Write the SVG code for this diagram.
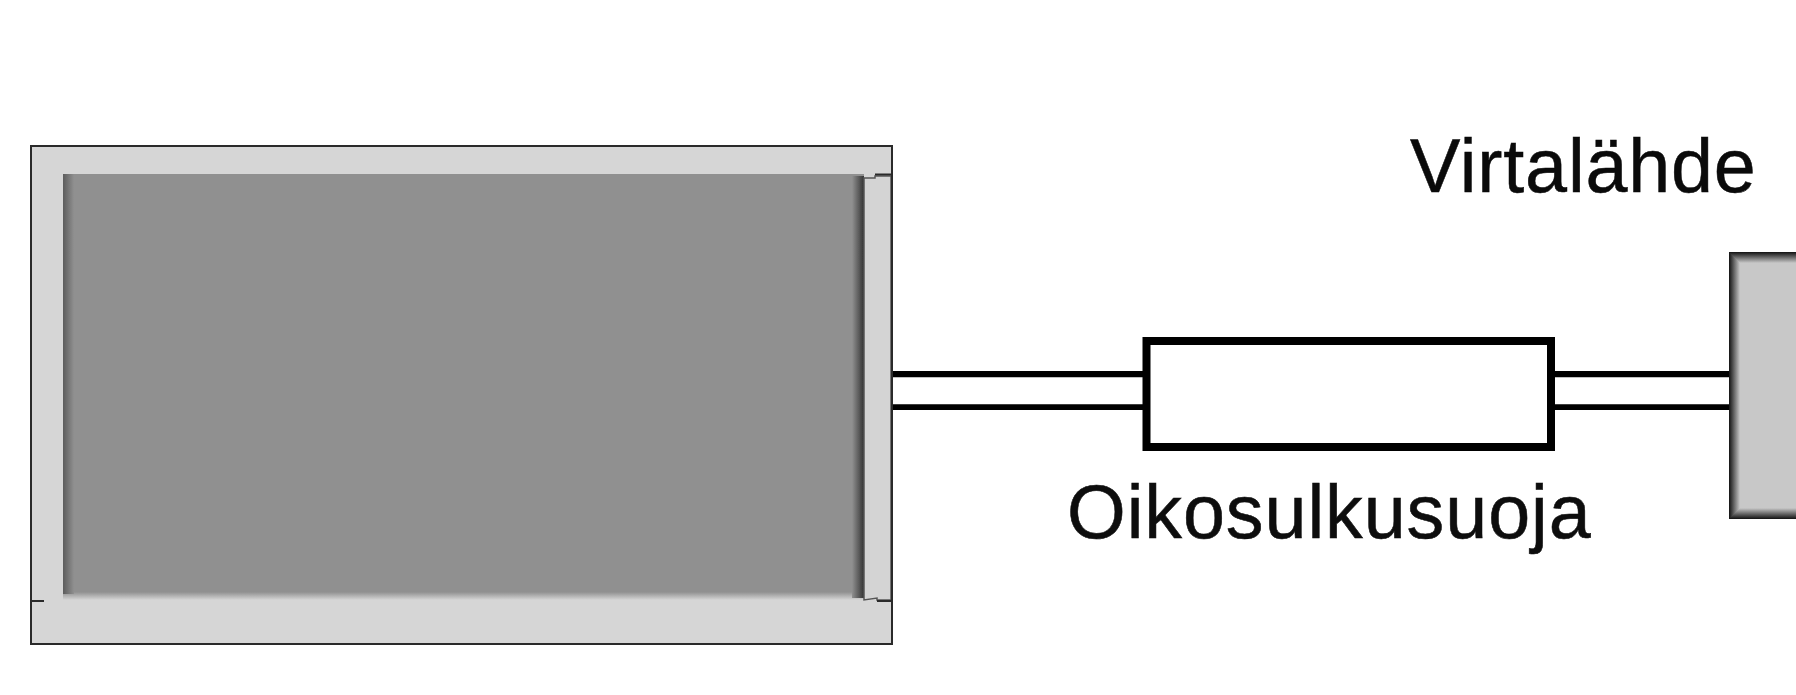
<svg xmlns="http://www.w3.org/2000/svg" width="1796" height="695" viewBox="0 0 1796 695">
<defs>
<style>
.lbl{font-family:"Liberation Sans",Arial,sans-serif;font-size:75.5px;fill:#0a0a0a;stroke:#0a0a0a;stroke-width:0.5}
.wire{fill:none;stroke:#000;stroke-width:9.500}
.thin{fill:none;stroke:#2a2a2a;stroke-width:2}
</style>
<linearGradient id="sl" x1="0" x2="1" y1="0" y2="0"><stop offset="0" stop-color="#5c5c5c"/><stop offset="1" stop-color="#909090"/></linearGradient>
<linearGradient id="sr" x1="0" x2="1" y1="0" y2="0"><stop offset="0" stop-color="#909090"/><stop offset="1" stop-color="#333"/></linearGradient>
<linearGradient id="sb" x1="0" x2="0" y1="0" y2="1"><stop offset="0" stop-color="#909090"/><stop offset="1" stop-color="#d6d6d6"/></linearGradient>
<linearGradient id="pl" x1="0" x2="1" y1="0" y2="0"><stop offset="0" stop-color="#111"/><stop offset="1" stop-color="#c8c8c8"/></linearGradient>
<linearGradient id="pt" x1="0" x2="0" y1="0" y2="1"><stop offset="0" stop-color="#111"/><stop offset="1" stop-color="#c8c8c8"/></linearGradient>
<linearGradient id="pb" x1="0" x2="0" y1="1" y2="0"><stop offset="0" stop-color="#111"/><stop offset="1" stop-color="#c8c8c8"/></linearGradient>
<filter id="soft" x="-2%" y="-2%" width="104%" height="104%"><feGaussianBlur stdDeviation="0.7"/></filter>
</defs>
<rect width="1796" height="695" fill="#fff"/>
<g id="connectors" filter="url(#soft)">
<path class="wire" d="M892 372.500H1143M892 409H1143M1552 372.500H1731M1552 409H1731"/>
</g>
<g id="display" filter="url(#soft)">
<rect x="31" y="146" width="861" height="498" fill="#d6d6d6"/>
<rect x="63" y="174" width="801" height="418" fill="#909090"/>
<rect x="63" y="592" width="801" height="8" fill="url(#sb)"/>
<rect x="63" y="174" width="11" height="420" fill="url(#sl)"/>
<rect x="852" y="176" width="12" height="422" fill="url(#sr)"/>
<path d="M864 600V178H875V176H891V600H877V598Z" fill="#d4d4d4" stroke="#555" stroke-width="1.500"/>
<path class="thin" d="M875 174.500H892M31 601H44M877 601H892"/>
<rect class="thin" x="31" y="146" width="861" height="498"/>
</g>
<g id="fuse" filter="url(#soft)">
<rect x="1146.500" y="341" width="404.500" height="106" fill="#fff" stroke="#000" stroke-width="8"/>
<text class="lbl" x="1067" y="538" letter-spacing="0.9">Oikosulkusuoja</text>
</g>
<g id="power">
<path d="M1729 252H1796V519H1729Z" fill="#c8c8c8"/>
<rect x="1729" y="252" width="67" height="11" fill="url(#pt)"/>
<rect x="1729" y="508" width="67" height="11" fill="url(#pb)"/>
<path d="M1729 252L1740 263V508L1729 519Z" fill="url(#pl)"/>
<text class="lbl" x="1410" y="192" letter-spacing="0.8">Virtalähde</text>
</g>
</svg>
